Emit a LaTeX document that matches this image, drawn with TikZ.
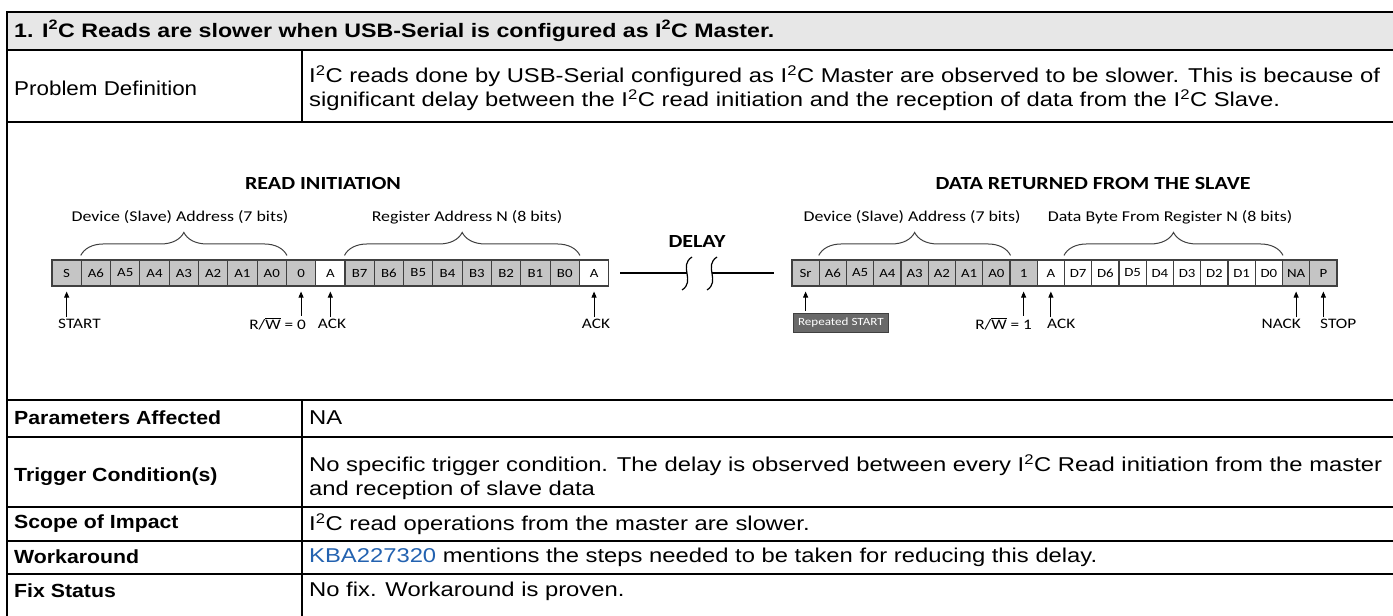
\documentclass[tikz,border=0pt]{standalone}
\usepackage{fontspec}
\setmainfont{Liberation Sans}[FakeStretch=1.19]
\newfontfamily\labelfont{Liberation Sans}[FakeStretch=1.12]
\newfontfamily\diagfont{Carlito}[FakeStretch=1.19]
\usetikzlibrary{arrows.meta,decorations.pathreplacing}

\definecolor{headgray}{RGB}{231,231,231}
\definecolor{bitgray}{RGB}{197,197,197}
\definecolor{bitedge}{RGB}{64,64,64}
\definecolor{tagfill}{RGB}{105,105,105}
\definecolor{kbablue}{RGB}{35,98,176}

\tikzset{
  tblrule/.style={line width=2.4pt},
  celltext/.style={anchor=west, inner sep=0pt, align=left, font=\fontsize{20}{24}\selectfont},
  rowname/.style={anchor=west, inner sep=0pt, font=\labelfont\fontsize{20}{24}\selectfont},
  rowhead/.style={anchor=west, inner sep=0pt, font=\labelfont\bfseries\fontsize{19}{24}\selectfont},
  tblhead/.style={anchor=west, inner sep=0pt, font=\bfseries\fontsize{19.5}{24}\selectfont},
  bit/.style={draw=bitedge, line width=1.1pt, inner sep=0pt, minimum height=26pt,
    font=\diagfont\fontsize{12.5}{12.5}\selectfont},
  bitL/.style={bit, minimum width=29.3pt},
  bitR/.style={bit, minimum width=27.25pt},
  headline/.style={inner sep=0pt, font=\diagfont\bfseries\fontsize{18.5}{18.5}\selectfont},
  spanlbl/.style={inner sep=0pt, font=\diagfont\fontsize{15}{15}\selectfont},
  siglbl/.style={inner sep=0pt, font=\diagfont\fontsize{14.5}{14.5}\selectfont},
  reptag/.style={draw=bitedge, fill=tagfill, text=white, line width=0.8pt, inner sep=0pt,
    minimum width=95pt, minimum height=19pt, font=\diagfont\fontsize{11}{11}\selectfont},
  brace/.style={decorate, decoration={brace, amplitude=23pt, raise=4pt}, line width=1pt, draw=bitedge},
  sigarrow/.style={-{Triangle[length=6pt,width=5pt]}, line width=0.9pt, shorten >=5pt, shorten <=2pt},
  delayln/.style={line width=1.2pt},
}

\begin{document}
\begin{tikzpicture}[x=1pt, y=-1pt]
\useasboundingbox (0,0) rectangle (1393,616);

% table
\fill[headgray] (7,12) rectangle (1393,50);
\draw[tblrule] (1393,12) -- (7,12) -- (7,616);
\foreach \y in {50, 122, 400, 437, 507, 541, 574}
  \draw[tblrule] (7,\y) -- (1393,\y);
\draw[tblrule] (302,50) -- (302,122);
\draw[tblrule] (302,400) -- (302,616);

\node[tblhead] (hdr) at (14,31) {1. I\textsuperscript{2}C Reads are slower when USB-Serial is configured as I\textsuperscript{2}C Master.};
\node[rowname] (pdLbl) at (14,88) {Problem Definition};
\node[celltext] (pdTxt) at (309,88) {I\textsuperscript{2}C reads done by USB-Serial configured as I\textsuperscript{2}C Master are observed to be slower. This is because of\\significant delay between the I\textsuperscript{2}C read initiation and the reception of data from the I\textsuperscript{2}C Slave.};

\node[rowhead] (paLbl) at (14,418) {Parameters Affected};
\node[celltext] (paTxt) at (309,418) {NA};
\node[rowhead] (trLbl) at (14,477) {Trigger Condition(s)};
\node[celltext] (trTxt) at (309,477) {No specific trigger condition. The delay is observed between every I\textsuperscript{2}C Read initiation from the master\\and reception of slave data};
\node[rowhead] (scLbl) at (14,524) {Scope of Impact};
\node[celltext] (scTxt) at (309,524) {I\textsuperscript{2}C read operations from the master are slower.};
\node[rowhead] (waLbl) at (14,557) {Workaround};
\node[celltext] (waTxt) at (309,557) {{\color{kbablue}KBA227320} mentions the steps needed to be taken for reducing this delay.};
\node[rowhead] (fxLbl) at (14,591) {Fix Status};
\node[celltext] (fxTxt) at (309,591) {No fix. Workaround is proven.};

% diagram titles
\node[headline] (readInit) at (323,183) {READ INITIATION};
\node[headline] (delayHd) at (697,241) {DELAY};
\node[headline] (dataRet) at (1093,183) {DATA RETURNED FROM THE SLAVE};

% read initiation bits
\foreach \t/\f [count=\i] in {S/bitgray, A6/bitgray, A5/bitgray, A4/bitgray, A3/bitgray, A2/bitgray, A1/bitgray, A0/bitgray, 0/bitgray, A/white,
    B7/bitgray, B6/bitgray, B5/bitgray, B4/bitgray, B3/bitgray, B2/bitgray, B1/bitgray, B0/bitgray, A/white}
  \node[bitL, fill=\f] (l\i) at ({52+29.3*(\i-0.5)},273) {\t};

% returned data bits
\foreach \t/\f [count=\i] in {Sr/bitgray, A6/bitgray, A5/bitgray, A4/bitgray, A3/bitgray, A2/bitgray, A1/bitgray, A0/bitgray, 1/bitgray, A/white,
    D7/white, D6/white, D5/white, D4/white, D3/white, D2/white, D1/white, D0/white, NA/bitgray, P/bitgray}
  \node[bitR, fill=\f] (r\i) at ({792+27.25*(\i-0.5)},273) {\t};

% braces
\draw[brace] (l2.north west) -- (l8.north east);
\draw[brace] (l11.north west) -- (l18.north east);
\draw[brace] (r2.north west) -- (r8.north east);
\draw[brace] (r11.north west) -- (r18.north east);
\node[spanlbl] (devL) at (180,217) {Device (Slave) Address (7 bits)};
\node[spanlbl] (regL) at (467,217) {Register Address N (8 bits)};
\node[spanlbl] (devR) at (912,217) {Device (Slave) Address (7 bits)};
\node[spanlbl] (datR) at (1170,217) {Data Byte From Register N (8 bits)};

% delay
\draw[delayln] ([xshift=11pt]l19.east) -- (687,273);
\draw[delayln] (712,273) -- ([xshift=-17pt]r1.west);
\foreach \x in {687,712}
  \draw[delayln] (\x+5,257) .. controls (\x-9,266) and (\x+9,281) .. (\x-5,290);

% markers
\node[siglbl, anchor=west] (sStart) at (58,324) {START};
\node[siglbl, anchor=east] (sRw0) at (306,324) {R/$\overline{\mbox{W}}$ = 0};
\node[siglbl] (sAck1) at (332,324) {ACK};
\node[siglbl] (sAck2) at (596,324) {ACK};
\draw[sigarrow] (l1 |- sStart.north) -- (l1.south);
\draw[sigarrow] (l9 |- sRw0.north) -- (l9.south);
\draw[sigarrow] (l10 |- sAck1.north) -- (l10.south);
\draw[sigarrow] (l19 |- sAck2.north) -- (l19.south);

\node[reptag, anchor=west] (sRep) at (793,323) {Repeated START};
\node[siglbl, anchor=east] (sRw1) at (1032,324) {R/$\overline{\mbox{W}}$ = 1};
\node[siglbl, anchor=west] (sAck3) at (1047,324) {ACK};
\node[siglbl, anchor=east] (sNack) at (1301,324) {NACK};
\node[siglbl, anchor=west] (sStop) at (1320,324) {STOP};
\draw[sigarrow] (r1 |- sRep.north) -- (r1.south);
\draw[sigarrow] (r9 |- sRw1.north) -- (r9.south);
\draw[sigarrow] (r10 |- sAck3.north) -- (r10.south);
\draw[sigarrow] (r19 |- sNack.north) -- (r19.south);
\draw[sigarrow] (r20 |- sStop.north) -- (r20.south);
\end{tikzpicture}
\end{document}
